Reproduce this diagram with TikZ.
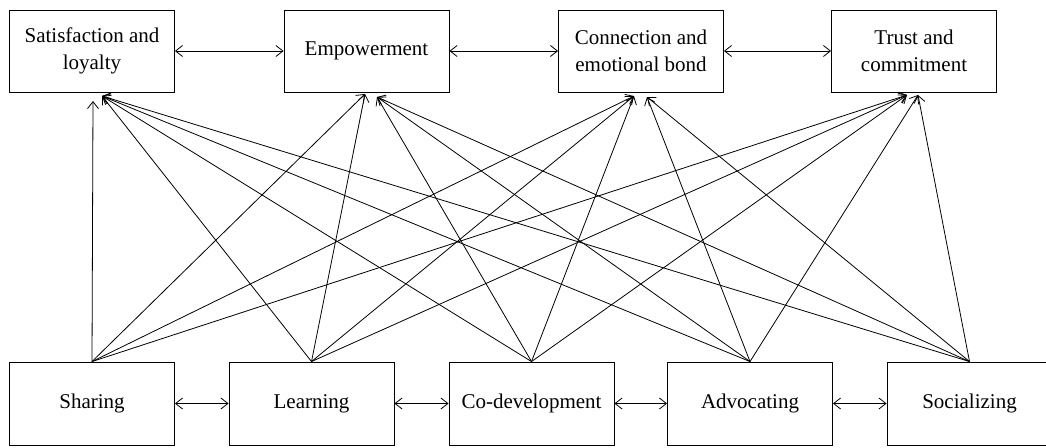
\documentclass[tikz,border=0pt]{standalone}
\usepackage{fontspec}
\setmainfont{Liberation Serif}
\usetikzlibrary{arrows.meta}
\begin{document}
\begin{tikzpicture}[x=1pt,y=-1pt,
  box/.style={draw, line width=0.9pt, rectangle, minimum width=165pt, minimum height=82pt, inner sep=0pt, align=center, font=\fontsize{21}{27}\selectfont},
  link/.style={line width=0.8pt, -{Straight Barb[length=7pt,width=11pt]}},
  dlink/.style={line width=0.8pt, {Straight Barb[length=7pt,width=11pt]}-{Straight Barb[length=7pt,width=11pt]}}]
\useasboundingbox (0,0) rectangle (1046,447);
% top boxes
\node[box] (sat) at (92,51) {Satisfaction and\\loyalty};
\node[box] (emp) at (366.5,51) {Empowerment};
\node[box] (con) at (641,51) {Connection and\\emotional bond};
\node[box] (tru) at (914,51) {Trust and\\commitment};
% bottom boxes
\node[box,minimum height=83pt] (sha) at (92,403.5) {Sharing};
\node[box,minimum height=83pt] (lea) at (311.5,403.5) {Learning};
\node[box,minimum height=83pt] (cod) at (531.5,403.5) {Co-development};
\node[box,minimum height=83pt] (adv) at (750,403.5) {Advocating};
\node[box,minimum height=83pt] (soc) at (969.5,403.5) {Socializing};
% target points
\coordinate (sata) at (93,101);
\coordinate (satb) at (102,96);
\coordinate (empa) at (365,94);
\coordinate (empb) at (377,97);
\coordinate (cona) at (634,96);
\coordinate (conb) at (647,97);
\coordinate (trua) at (907,95);
\coordinate (trub) at (918,95);
% horizontal links
\draw[dlink] (sat) -- (emp);
\draw[dlink] (emp) -- (con);
\draw[dlink] (con) -- (tru);
\draw[dlink] (sha) -- (lea);
\draw[dlink] (lea) -- (cod);
\draw[dlink] (cod) -- (adv);
\draw[dlink] (adv) -- (soc);
% to Satisfaction
\draw[link] (sha.north) -- (sata);
\foreach \s in {lea,cod,adv,soc} \draw[link] (\s.north) -- (satb);
% to Empowerment
\foreach \s in {sha,lea} \draw[link] (\s.north) -- (empa);
\foreach \s in {cod,adv,soc} \draw[link] (\s.north) -- (empb);
% to Connection
\foreach \s in {sha,lea,cod} \draw[link] (\s.north) -- (cona);
\foreach \s in {adv,soc} \draw[link] (\s.north) -- (conb);
% to Trust
\foreach \s in {sha,lea,cod} \draw[link] (\s.north) -- (trua);
\foreach \s in {adv,soc} \draw[link] (\s.north) -- (trub);
\end{tikzpicture}
\end{document}
